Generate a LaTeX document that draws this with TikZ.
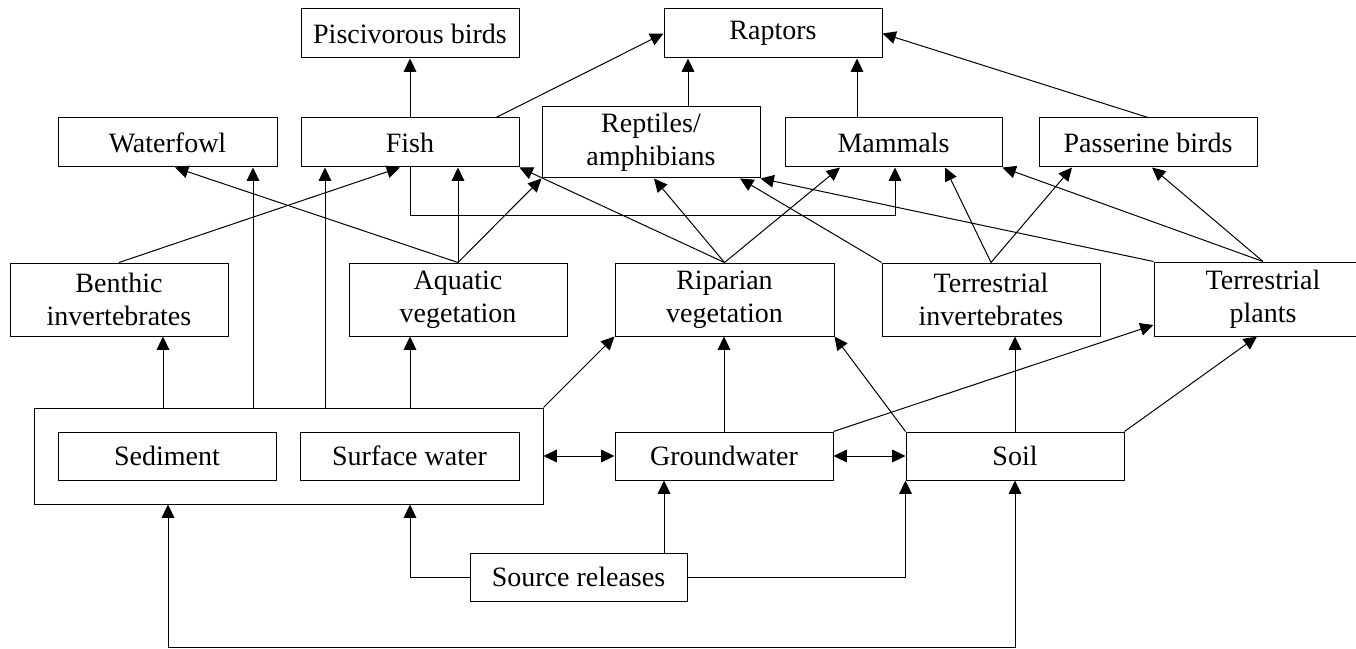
\documentclass[tikz,border=0pt]{standalone}
\usepackage{fontspec}
\setmainfont{Liberation Serif}
\usetikzlibrary{arrows.meta}
\begin{document}
\begin{tikzpicture}[x=0.75pt,y=-0.75pt,
  box/.style={draw, inner sep=0pt, align=center, line width=0.75pt,
    font=\fontsize{21}{25}\selectfont},
  wh/.style 2 args={minimum width=0.75*#1pt, minimum height=0.75*#2pt},
  tip/.tip={Triangle[length=10pt,width=9.5pt]},
  arr/.style={-tip, line width=0.75pt},
  darr/.style={tip-tip, line width=0.75pt}]
\useasboundingbox (0,0) rectangle (1356,649);

% top row
\node[box, wh={218}{49}] (pisc) at (410,33.5) {Piscivorous birds};
\node[box, wh={218}{49}] (raptors) at (773,33.5) {Raptors};
% second row
\node[box, wh={219}{49}] (waterfowl) at (167.5,142.5) {Waterfowl};
\node[box, wh={218}{49}] (fish) at (410,142.5) {Fish};
\node[box, wh={218}{71}] (reptiles) at (651,142.5) {Reptiles/\\amphibians};
\node[box, wh={217}{49}] (mammals) at (893.5,142.5) {Mammals};
\node[box, wh={218}{49}] (passerine) at (1148,142.5) {Passerine birds};
% third row
\node[box, wh={218}{73}] (benthic) at (119,299.5) {Benthic\\invertebrates};
\node[box, wh={218}{73}] (aquatic) at (458,299.5) {Aquatic\\vegetation};
\node[box, wh={219}{73}] (riparian) at (724.5,299.5) {Riparian\\vegetation};
\node[box, wh={218}{73}] (terrinv) at (991,299.5) {Terrestrial\\invertebrates};
\node[box, wh={218}{74}] (terrplants) at (1263,299) {Terrestrial\\plants};
% media
\node[box, wh={509}{96}] (envbox) at (288.5,456) {};
\node[box, wh={218}{48}] (sediment) at (167,456) {Sediment};
\node[box, wh={219}{48}] (surface) at (409.5,456) {Surface water};
\node[box, wh={218}{48}] (groundwater) at (724,456) {Groundwater};
\node[box, wh={218}{48}] (soil) at (1015,456) {Soil};
\node[box, wh={217}{48}] (source) at (578.5,577) {Source releases};

% to top predators
\draw[arr] (fish.north) -- (pisc.south);
\draw[arr] (496,0 |- fish.north) -- (raptors.west);
\draw[arr] (688,0 |- reptiles.north) -- (688,0 |- raptors.south);
\draw[arr] (857,0 |- mammals.north) -- (857,0 |- raptors.south);
\draw[arr] (passerine.north) -- (raptors.east);
\draw[arr] (fish.south) -- ++(0,48) -| (895,0 |- mammals.south);

% from third row
\draw[arr] (aquatic.north) -- (175,0 |- waterfowl.south);
\draw[arr] (aquatic.north) -- (aquatic.north |- fish.south);
\draw[arr] (aquatic.north) -- (reptiles.south west);
\draw[arr] (benthic.north) -- (400,0 |- fish.south);
\draw[arr] (riparian.north) -- (fish.south east);
\draw[arr] (riparian.north) -- (654,0 |- reptiles.south);
\draw[arr] (riparian.north) -- (840,0 |- mammals.south);
\draw[arr] (terrinv.north west) -- (740,0 |- reptiles.south);
\draw[arr] (terrinv.north) -- (945,0 |- mammals.south);
\draw[arr] (terrinv.north) -- (1072,0 |- passerine.south);
\draw[arr] (terrplants.north west) -- (reptiles.south east);
\draw[arr] (terrplants.north) -- (mammals.south east);
\draw[arr] (terrplants.north) -- (1152,0 |- passerine.south);

% from media
\draw[arr] (253,0 |- envbox.north) -- (253,0 |- waterfowl.south);
\draw[arr] (325,0 |- envbox.north) -- (325,0 |- fish.south);
\draw[arr] (163,0 |- envbox.north) -- (163,0 |- benthic.south);
\draw[arr] (410,0 |- envbox.north) -- (410,0 |- aquatic.south);
\draw[arr] (envbox.north east) -- (riparian.south west);
\draw[arr] (groundwater.north) -- (groundwater.north |- riparian.south);
\draw[arr] (soil.north west) -- (riparian.south east);
\draw[arr] (soil.north) -- (soil.north |- terrinv.south);
\draw[arr] (groundwater.north east) -- (terrplants.west |- 0,325);
\draw[arr] (soil.north east) -- (1257,0 |- terrplants.south);

% exchanges
\draw[darr] (envbox.east) -- (groundwater.west);
\draw[darr] (groundwater.east) -- (soil.west);

% source releases
\draw[arr] (source.west) -| (410,0 |- envbox.south);
\draw[arr] (664,0 |- source.north) -- (664,0 |- groundwater.south);
\draw[arr] (source.east) -| (soil.south west);
\draw[darr] (168,0 |- envbox.south) -- (168,647) -| (soil.south);
\end{tikzpicture}
\end{document}
